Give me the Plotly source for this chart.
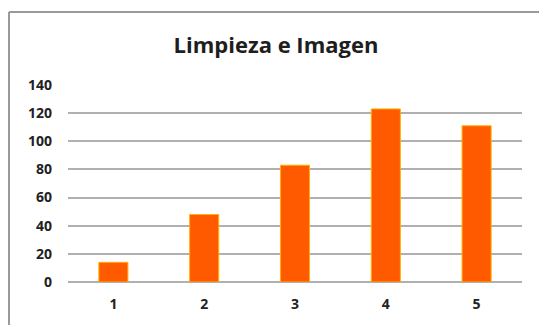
import plotly.graph_objects as go

categories = ["1", "2", "3", "4", "5"]
values = [14, 48, 83, 123, 111]
y_ticks = [0, 20, 40, 60, 80, 100, 120, 140]
title_text = "Limpieza e Imagen"

W, H = 539, 325
ml, mr, mt, mb = 68, 17, 85, 43
pw = W - ml - mr
ph = H - mt - mb

fig = go.Figure()
fig.add_trace(go.Bar(
    x=categories, y=values,
    marker=dict(color="#FF5A00", line=dict(color="#FFB000", width=1)),
    width=0.32,
))

# frame (top and left borders)
fx = (9 - ml) / pw
fy = (H - mb - 12) / ph
fig.add_shape(type="line", xref="paper", yref="paper", x0=fx, x1=(W - ml) / pw + 0.01, y0=fy, y1=fy,
              line=dict(color="#9a9a9a", width=2))
fig.add_shape(type="line", xref="paper", yref="paper", x0=fx, x1=fx, y0=fy, y1=-mb / ph - 0.05,
              line=dict(color="#9a9a9a", width=2))

fig.update_layout(
    width=W, height=H,
    margin=dict(l=ml, r=mr, t=mt, b=mb),
    paper_bgcolor="white", plot_bgcolor="white",
    showlegend=False,
    title=dict(text=title_text, x=(276) / W, xanchor="center", y=1 - 45 / H, yanchor="middle",
               font=dict(family="Open Sans", size=22, color="#1e1e1e", weight="bold")),
    font=dict(family="Open Sans", color="#222222"),
    xaxis=dict(showgrid=False, showline=False, ticks="", tickfont=dict(size=14, weight="bold"),
               ticklabelstandoff=12),
    yaxis=dict(range=[0, 140], tickvals=y_ticks, showgrid=True, gridcolor="#b0b0b0", gridwidth=2,
               zeroline=True, zerolinecolor="#b0b0b0", zerolinewidth=2, showline=False,
               tickfont=dict(size=14, weight="bold"), ticklabelstandoff=15),
    bargap=0.68,
)

fig.write_html("out.html")
